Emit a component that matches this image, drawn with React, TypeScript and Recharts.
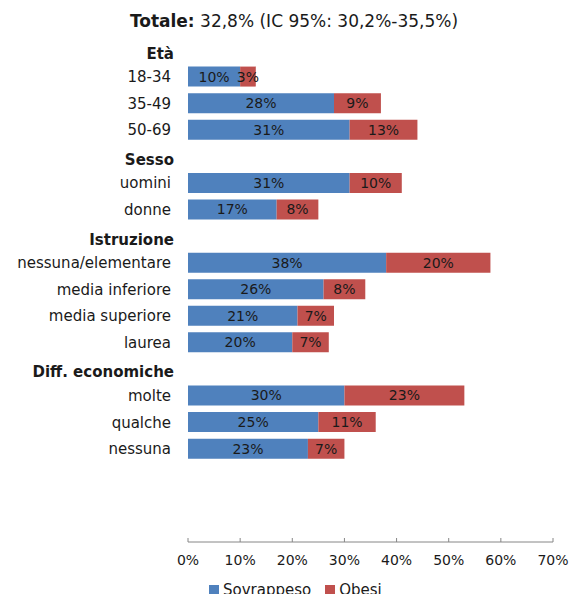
import { BarChart, Bar, XAxis, YAxis, LabelList, Legend } from 'recharts'

// Rows top to bottom; group headers sit in their own (empty) rows,
// and the last three rows are blank space above the axis.
const categories = [
  'Età',
  '18-34',
  '35-49',
  '50-69',
  'Sesso',
  'uomini',
  'donne',
  'Istruzione',
  'nessuna/elementare',
  'media inferiore',
  'media superiore',
  'laurea',
  'Diff. economiche',
  'molte',
  'qualche',
  'nessuna',
  ' ',
  '  ',
  '   ',
]
const headers = ['Età', 'Sesso', 'Istruzione', 'Diff. economiche']

const sovrappeso = [null, 10, 28, 31, null, 31, 17, null, 38, 26, 21, 20, null, 30, 25, 23, null, null, null]
const obesi = [null, 3, 9, 13, null, 10, 8, null, 20, 8, 7, 7, null, 23, 11, 7, null, null, null]

const xTicks = [0, 10, 20, 30, 40, 50, 60, 70]

const BLUE = '#4F81BD'
const RED = '#C0504D'
const FONT = '"DejaVu Sans", Verdana, sans-serif'

const data = categories.map((name, i) => ({
  name,
  sovrappeso: sovrappeso[i],
  obesi: obesi[i],
}))

const pct = (v: unknown) => (v == null ? '' : `${v}%`)

function CategoryTick({ x, y, payload }: any) {
  const label = String(payload?.value ?? '')
  const isHeader = headers.includes(label)
  return (
    <text
      x={isHeader ? x - 14 : x - 17}
      y={isHeader ? y + 3 : y}
      dy="0.35em"
      textAnchor="end"
      fontSize={15}
      fontWeight={isHeader ? 700 : 400}
      fontFamily={FONT}
      fill="#1a1a1a"
    >
      {label}
    </text>
  )
}

function PercentTick({ x, y, payload }: any) {
  return (
    <g>
      <line x1={x} x2={x} y1={y - 4} y2={y} stroke="#868686" />
      <text x={x} y={y + 18} dy="0.35em" textAnchor="middle" fontSize={14} fontFamily={FONT} fill="#1a1a1a">
        {`${payload.value}%`}
      </text>
    </g>
  )
}

function LegendBox() {
  const items = [
    { label: 'Sovrappeso', color: BLUE },
    { label: 'Obesi', color: RED },
  ]
  return (
    <div style={{ display: 'flex', gap: 14, fontFamily: FONT, fontSize: 15, color: '#1a1a1a' }}>
      {items.map((it) => (
        <div key={it.label} style={{ display: 'flex', alignItems: 'center', gap: 4 }}>
          <span style={{ width: 10, height: 10, background: it.color, display: 'inline-block' }} />
          <span>{it.label}</span>
        </div>
      ))}
    </div>
  )
}

export default function App() {
  return (
    <div style={{ position: 'absolute', left: 0, top: 0, width: 576, height: 594, background: '#fff' }}>
      <div
        style={{
          position: 'absolute',
          left: 0,
          top: 10,
          width: 588,
          textAlign: 'center',
          fontFamily: FONT,
          fontSize: 17,
          lineHeight: '22px',
          color: '#1a1a1a',
        }}
      >
        <b>Totale:</b> 32,8% (IC 95%: 30,2%-35,5%)
      </div>
      <BarChart
        width={576}
        height={594}
        data={data}
        layout="vertical"
        margin={{ top: 37, right: 23, bottom: 22, left: 0 }}
        barCategoryGap={0}
      >
        <XAxis
          type="number"
          domain={[0, 70]}
          ticks={xTicks}
          allowDataOverflow
          height={30}
          tickSize={0}
          tickMargin={0}
          tickLine={false}
          axisLine={{ stroke: '#868686' }}
          tick={<PercentTick />}
        />
        <YAxis
          type="category"
          dataKey="name"
          width={188}
          tickSize={0}
          tickMargin={0}
          tickLine={false}
          axisLine={false}
          interval={0}
          tick={<CategoryTick />}
        />
        <Legend
          layout="horizontal"
          verticalAlign="middle"
          align="center"
          wrapperStyle={{ left: 209, top: 581, width: 300 }}
          content={<LegendBox />}
        />
        <Bar dataKey="sovrappeso" name="Sovrappeso" stackId="a" fill={BLUE} barSize={20} isAnimationActive={false}>
          <LabelList dataKey="sovrappeso" position="center" formatter={pct} fontSize={14} fontFamily={FONT} fill="#1a1a1a" />
        </Bar>
        <Bar dataKey="obesi" name="Obesi" stackId="a" fill={RED} barSize={20} isAnimationActive={false}>
          <LabelList dataKey="obesi" position="center" formatter={pct} fontSize={14} fontFamily={FONT} fill="#1a1a1a" />
        </Bar>
      </BarChart>
    </div>
  )
}
